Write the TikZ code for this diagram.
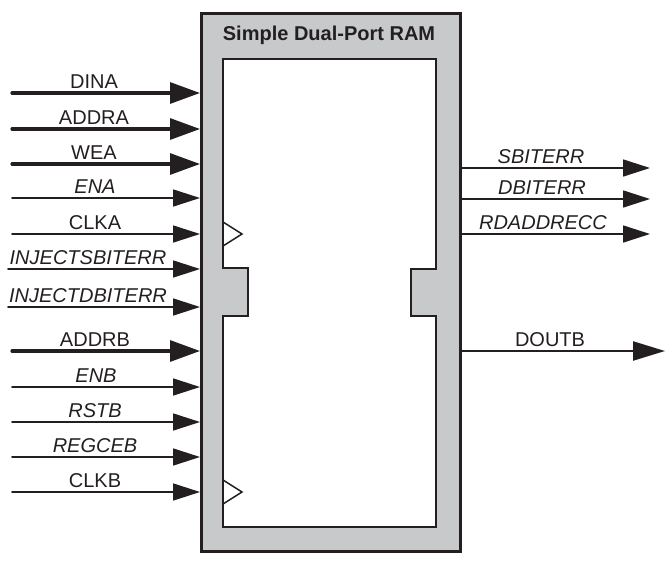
\documentclass[tikz,border=0pt]{standalone}
\usepackage{fontspec}
\setmainfont{Liberation Sans}
\usetikzlibrary{arrows.meta}
\definecolor{ramgray}{HTML}{C8C9CB}
\definecolor{ink}{HTML}{231F20}
\begin{document}
\begin{tikzpicture}[x=1pt,y=-1pt,
  lbl/.style={anchor=base, font=\fontsize{20}{24}\selectfont, inner sep=0pt, text=ink},
  ilbl/.style={anchor=base, font=\fontsize{20}{24}\selectfont\itshape, inner sep=0pt, text=ink},
  busarrow/.style={draw=ink, line width=3.2pt, line cap=round, -{Triangle[length=30pt,width=21pt]}},
  sigarrow/.style={draw=ink, line width=1.7pt, line cap=round, -{Triangle[length=27pt,width=17pt]}},
  outbus/.style={draw=ink, line width=2.3pt, -{Triangle[length=32pt,width=19pt]}},
  outsig/.style={draw=ink, line width=1.7pt, -{Triangle[length=27pt,width=17pt]}},
  rambox/.style={draw=ink, line width=2.6pt, fill=ramgray, inner sep=0pt, anchor=north west},
  memarea/.style={draw=ink, line width=2pt, fill=white},
  clk/.style={draw=ink, line width=1.5pt}]
\useasboundingbox (0,0) rectangle (672,562);

\node[rambox, minimum width=259pt, minimum height=538pt] (ram) at (200,12) {};
\draw[memarea] (223,59) -- (436,59) -- (436,269) -- (411,269) -- (411,316) -- (436,316)
  -- (436,527) -- (223,527) -- (223,316) -- (248,316) -- (248,268) -- (223,268) -- cycle;
\draw[clk] (223,222) -- (242,234) -- (223,246);
\draw[clk] (223,480) -- (242,492) -- (223,504);

\node[lbl, font=\fontsize{20}{24}\selectfont\bfseries] (title) at (329,40) {Simple Dual-Port RAM};

\foreach \n/\y/\t/\a/\l/\x/\lx in {
  dina/93/DINA/busarrow/lbl/12/94,
  addra/129/ADDRA/busarrow/lbl/12/94,
  wea/164/WEA/busarrow/lbl/12/94,
  ena/198/ENA/sigarrow/ilbl/12/95,
  clka/234/CLKA/sigarrow/lbl/12/95,
  injs/269/INJECTSBITERR/sigarrow/ilbl/8/88,
  injd/307/INJECTDBITERR/sigarrow/ilbl/8/88,
  addrb/351/ADDRB/busarrow/lbl/12/95,
  enb/387/ENB/sigarrow/ilbl/12/96,
  rstb/422/RSTB/sigarrow/ilbl/12/95,
  regceb/457/REGCEB/sigarrow/ilbl/12/95,
  clkb/492/CLKB/sigarrow/lbl/12/95}
{
  \coordinate (\n-s) at (\x,\y);
  \draw[\a] (\n-s) -- (\n-s -| ram.west);
  \node[\l] (\n-l) at (\lx,\y-5) {\t};
}

\foreach \n/\y/\t/\a/\l/\x/\lx in {
  sbiterr/168/SBITERR/outsig/ilbl/650/541,
  dbiterr/199/DBITERR/outsig/ilbl/650/542,
  rdaddrecc/234/RDADDRECC/outsig/ilbl/650/543,
  doutb/351/DOUTB/outbus/lbl/665/550}
{
  \coordinate (\n-e) at (\x,\y);
  \draw[\a] (\n-e -| ram.east) -- (\n-e);
  \node[\l] (\n-l) at (\lx,\y-5) {\t};
}
\end{tikzpicture}
\end{document}
